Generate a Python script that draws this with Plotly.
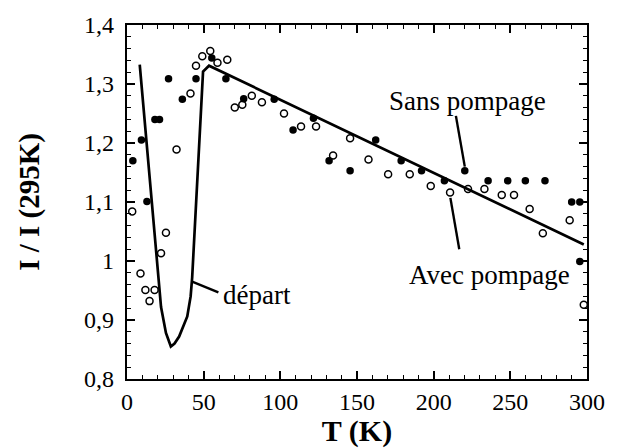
import plotly.graph_objects as go

# Sans pompage (filled circles)
t_sans = [3.8, 9.4, 13.0, 18.2, 21.2, 27.1, 36.1, 45.0, 55.3, 64.5, 76.1, 96.0, 108.3,
          121.6, 131.8, 145.5, 162.2, 178.8, 192.1, 207.0, 220.3, 235.5, 248.3, 259.8,
          272.6, 290.0, 295.3, 295.3]
v_sans = [1.170, 1.205, 1.101, 1.240, 1.240, 1.309, 1.274, 1.309, 1.344, 1.309, 1.275,
          1.274, 1.222, 1.242, 1.170, 1.153, 1.205, 1.170, 1.153, 1.136, 1.153, 1.136,
          1.136, 1.136, 1.136, 1.100, 1.100, 0.999]

# Avec pompage (open circles)
t_avec = [3.4, 8.8, 12.0, 14.7, 18.0, 22.2, 25.4, 32.3, 41.4, 45.0, 49.1, 54.3, 59.0,
          65.4, 70.3, 75.2, 81.4, 88.0, 102.4, 113.5, 123.3, 134.4, 145.5, 157.5, 170.3,
          184.4, 198.1, 210.7, 222.4, 233.1, 244.4, 252.4, 262.6, 271.2, 288.7, 297.9]
v_avec = [1.084, 0.979, 0.951, 0.932, 0.951, 1.013, 1.048, 1.189, 1.284, 1.331, 1.347,
          1.356, 1.336, 1.341, 1.260, 1.265, 1.280, 1.269, 1.250, 1.228, 1.228, 1.179,
          1.208, 1.172, 1.147, 1.147, 1.127, 1.116, 1.122, 1.122, 1.112, 1.112, 1.088,
          1.047, 1.069, 0.926]

# Départ curve
t_dep = [8.3, 14.7, 18.0, 22.2, 25.4, 28.6, 31.0, 34.0, 39.3, 41.5, 42.5, 44.0, 45.5,
         49.6, 53.5, 297.9]
v_dep = [1.333, 1.140, 1.040, 0.922, 0.878, 0.855, 0.860, 0.872, 0.906, 0.940, 0.972,
         1.050, 1.120, 1.321, 1.331, 1.028]

y_ticks = [0.8, 0.9, 1.0, 1.1, 1.2, 1.3, 1.4]
y_ticktext = ["0,8", "0,9", "1", "1,1", "1,2", "1,3", "1,4"]
x_ticks = [0, 50, 100, 150, 200, 250, 300]

FONT = "Liberation Serif"

fig = go.Figure()
fig.add_trace(go.Scatter(x=t_dep, y=v_dep, mode="lines",
                         line=dict(color="black", width=2.7), cliponaxis=False))
fig.add_trace(go.Scatter(x=t_sans, y=v_sans, mode="markers", cliponaxis=False,
                         marker=dict(symbol="circle", size=7.5, color="black")))
fig.add_trace(go.Scatter(x=t_avec, y=v_avec, mode="markers", cliponaxis=False,
                         marker=dict(symbol="circle-open", size=7, color="black",
                                     line=dict(width=1.5))))

# annotation pointer lines
for (x0, y0, x1, y1) in [(214.5, 1.246, 220.3, 1.160),
                         (210.9, 1.107, 216.7, 1.020),
                         (42.5, 0.965, 59.6, 0.947)]:
    fig.add_shape(type="line", x0=x0, y0=y0, x1=x1, y1=y1,
                  line=dict(color="black", width=2.4))

fig.add_annotation(x=222.0, y=1.272, text="Sans pompage", showarrow=False,
                   font=dict(family=FONT, size=27, color="black"))
fig.add_annotation(x=236.5, y=0.976, text="Avec pompage", showarrow=False,
                   font=dict(family=FONT, size=27, color="black"))
fig.add_annotation(x=61.3, y=0.942, text="départ", showarrow=False, xanchor="left",
                   font=dict(family=FONT, size=27, color="black"))

fig.update_layout(
    width=617, height=448,
    margin=dict(l=127, r=21, t=25, b=65),
    paper_bgcolor="white", plot_bgcolor="white",
    showlegend=False,
    font=dict(family=FONT, size=24, color="black"),
    xaxis=dict(range=[0, 300], tickvals=x_ticks, ticks="inside", ticklen=8,
               tickwidth=1.5, tickcolor="black", mirror="allticks", showline=True,
               linecolor="black", linewidth=2.2, showgrid=False, zeroline=False,
               minor=dict(ticks="inside", dtick=10, ticklen=4, tickwidth=1.2,
                          tickcolor="black", showgrid=False),
               tickfont=dict(family=FONT, size=24),
               title=dict(text="<b>T (K)</b>", font=dict(family=FONT, size=30),
                          standoff=0)),
    yaxis=dict(range=[0.8, 1.4], tickvals=y_ticks, ticktext=y_ticktext,
               ticks="inside", ticklen=8, tickwidth=1.5, tickcolor="black",
               mirror="allticks", showline=True, linecolor="black", linewidth=2.2,
               showgrid=False, zeroline=False,
               minor=dict(ticks="inside", dtick=0.02, ticklen=4, tickwidth=1.2,
                          tickcolor="black", showgrid=False),
               tickfont=dict(family=FONT, size=24), ticklabelstandoff=6,
               title=dict(text="<b>I / I (295K)</b>", font=dict(family=FONT, size=29),
                          standoff=36)),
)

fig.write_html("out.html", config={"displayModeBar": False},
               post_script="document.body.style.margin='0';document.body.style.overflow='hidden';")
